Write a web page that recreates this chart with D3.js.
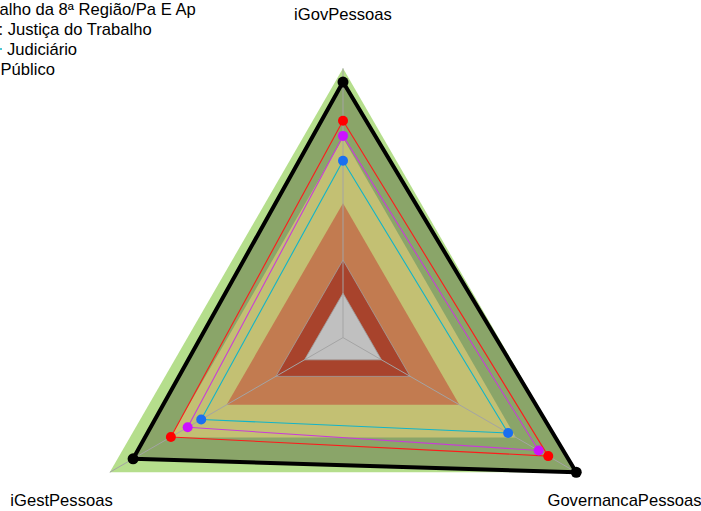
<!DOCTYPE html>
<html>
<head>
<meta charset="utf-8">
<script src="https://cdn.jsdelivr.net/npm/d3@7"></script>
<style>
  body { margin: 0; background: #fff; }
  text { font-family: Arial, "Liberation Sans", sans-serif; }
</style>
</head>
<body>
<div id="grafico"></div>
<script>
// eixos do radar
const eixos = ["iGovPessoas", "GovernancaPessoas", "iGestPessoas"];

// faixas de fundo (nivel maximo de cada faixa)
const faixasNiveis = [1.0, 0.741, 0.499, 0.288, 0.165];
const faixasCores = ["#b5de8c", "#c3c073", "#c27b50", "#a8432c", "#c0c0c0"];

// series
const nomesSeries = [
    "Tribunal Regional do Trabalho da 8ª Região/Pa E Ap",
    "Segmento: Justiça do Trabalho",
    "Judiciário",
    "Público"
];
const valoresTRT = [0.805, 0.88, 0.738];
const valoresSegmento = [0.749, 0.839, 0.666];
const valoresJudiciario = [0.657, 0.708, 0.608];
const valoresPublico = [0.949, 1.0, 0.90];

const coresLinha = ["#ff1a1a", "#c83cd8", "#12b4c8", "#000000"];
const coresPonto = ["#ff0000", "#cc11ff", "#1a6ff0", "#000000"];

const width = 701,
    height = 511,
    cx = 343,
    cy = 337.6,
    raio = 269.3,
    fonte = '16.6px';

const series = [valoresTRT, valoresSegmento, valoresJudiciario, valoresPublico];

const r = d3.scaleLinear().domain([0, 1]).range([0, raio]);
// 3 eixos: topo, direita-baixo, esquerda-baixo
function ang(i) { return (-90 + i * 360 / eixos.length) * Math.PI / 180; }

function ponto(v, i) {
    return [cx + r(v) * Math.cos(ang(i)), cy + r(v) * Math.sin(ang(i))];
}

const linha = d3.line().curve(d3.curveLinearClosed);

let svg = d3.select('#grafico').append('svg')
    .attr('width', width)
    .attr('height', height);

// faixa externa
svg.append('path')
    .attr('d', linha(eixos.map((e, i) => ponto(faixasNiveis[0], i))))
    .attr('fill', faixasCores[0]);

// area da serie mais externa
svg.append('path')
    .attr('d', linha(valoresPublico.map((v, i) => ponto(v, i))))
    .attr('fill', '#8aa569');

// faixas internas
svg.append('g')
    .selectAll('path')
    .data(faixasNiveis.slice(1))
    .enter()
    .append('path')
    .attr('d', n => linha(eixos.map((e, i) => ponto(n, i))))
    .attr('fill', (n, k) => faixasCores[k + 1])
    .attr('stroke', (n, k) => k >= 2 ? '#a0a0a0' : 'none')
    .attr('stroke-width', 0.8);

// linhas dos eixos
svg.append('g')
    .selectAll('line')
    .data(eixos)
    .enter()
    .append('line')
    .attr('x1', cx)
    .attr('y1', cy)
    .attr('x2', (e, i) => ponto(1, i)[0])
    .attr('y2', (e, i) => ponto(1, i)[1])
    .attr('stroke', '#a4a4a4')
    .attr('stroke-width', 1);

// rotulos dos eixos
svg.append('g')
    .selectAll('text')
    .data(eixos)
    .enter()
    .append('text')
    .attr('x', (e, i) => ponto(1.207, i)[0])
    .attr('y', (e, i) => ponto(1.207, i)[1] + (i === 0 ? 2 : 0))
    .attr('text-anchor', 'middle')
    .attr('dominant-baseline', 'central')
    .style('font-size', fonte)
    .attr('fill', '#000')
    .text(e => e);

// linhas das series (ordem: azul, roxo, vermelho, preto)
const ordem = [2, 1, 0, 3];
ordem.forEach(s => {
    svg.append('path')
        .attr('d', linha(series[s].map((v, i) => ponto(v, i))))
        .attr('fill', 'none')
        .attr('stroke', coresLinha[s])
        .attr('stroke-width', s === 3 ? 4 : 1.1)
        .attr('stroke-linejoin', 'round');
});
ordem.forEach(s => {
    svg.append('g')
        .selectAll('circle')
        .data(series[s])
        .enter()
        .append('circle')
        .attr('cx', (v, i) => ponto(v, i)[0])
        .attr('cy', (v, i) => ponto(v, i)[1])
        .attr('r', s === 3 ? 5.5 : 5)
        .attr('fill', coresPonto[s]);
});

// legenda (cortada na borda esquerda)
const legendaY = [14.7, 34.6, 54.5, 75];
const prefixos = ["Tribunal Regional do Trab", "Segmento", "", ""];
const inicioVisivel = [-0.5, -1.5, 7, 0.5];

let legenda = svg.append('g');
nomesSeries.forEach((nome, k) => {
    let t = legenda.append('text')
        .attr('y', legendaY[k])
        .style('font-size', fonte)
        .attr('fill', '#000')
        .text(nome);
    let desloc = 0;
    if (prefixos[k].length > 0) {
        desloc = t.node().getSubStringLength(0, prefixos[k].length);
    }
    let x = inicioVisivel[k] - desloc;
    t.attr('x', x);
    legenda.append('line')
        .attr('x1', x - 28)
        .attr('x2', x - 5)
        .attr('y1', legendaY[k] - 5.5)
        .attr('y2', legendaY[k] - 5.5)
        .attr('stroke', coresLinha[k])
        .attr('stroke-width', k === 3 ? 4 : 1.5);
});
</script>
</body>
</html>
